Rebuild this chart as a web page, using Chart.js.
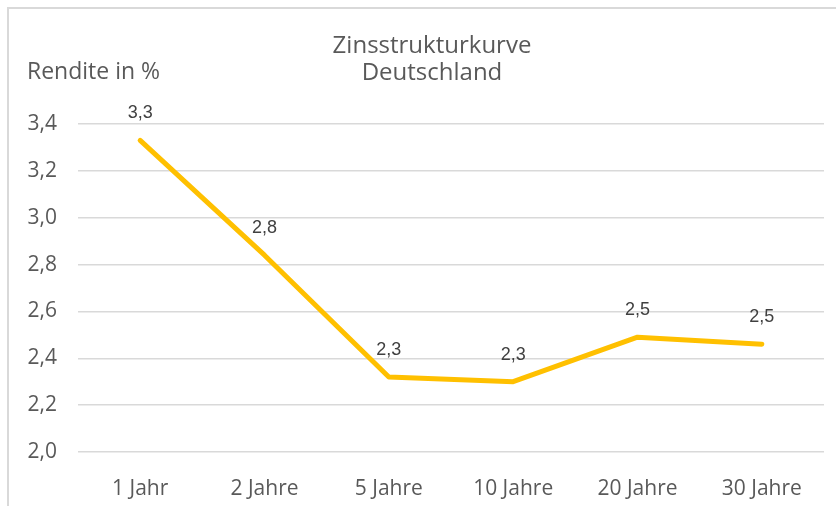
<!DOCTYPE html>
<html>

<head>
    <meta name="viewport" content="width=device-width, initial-scale=1.0">
    <title>Zinsstrukturkurve</title>
    <script src="https://cdn.jsdelivr.net/npm/chart.js"></script>
    <style>
        html, body { margin: 0; padding: 0; background: #fff; }
    </style>
</head>

<body>
    <div class="chart-container" style="position: relative; height: 506px; width: 836px;">
        <canvas id="lineChart"></canvas>
    </div>

<script>
    // data
    var laufzeiten = ["1 Jahr", "2 Jahre", "5 Jahre", "10 Jahre", "20 Jahre", "30 Jahre"];
    var renditen = [3.33, 2.84, 2.32, 2.30, 2.49, 2.46];
    var titelZeilen = ["Zinsstrukturkurve", "Deutschland"];
    var achsenTitel = "Rendite in %";
    var yMin = 2.0, yMax = 3.4, yStep = 0.2;

    var textGrau = "#595959";

    function komma(v) {
        return v.toFixed(1).replace(".", ",");
    }

    // white background, frame, title and the horizontal axis title
    var rahmenPlugin = {
        id: "rahmen",
        beforeDraw: function(chart) {
            var ctx = chart.ctx;
            ctx.save();
            ctx.fillStyle = "#fff";
            ctx.fillRect(0, 0, chart.width, chart.height);
            ctx.strokeStyle = "#d9d9d9";
            ctx.lineWidth = 2;
            ctx.beginPath();
            ctx.moveTo(8, chart.height);
            ctx.lineTo(8, 8);
            ctx.lineTo(chart.width, 8);
            ctx.stroke();
            ctx.restore();
        },
        afterDraw: function(chart) {
            var ctx = chart.ctx;
            ctx.save();
            ctx.fillStyle = textGrau;
            ctx.textBaseline = "alphabetic";

            ctx.font = "24px 'Open Sans'";
            ctx.textAlign = "center";
            ctx.fillText(titelZeilen[0], 432, 53);
            ctx.fillText(titelZeilen[1], 432, 80);

            ctx.font = "23px 'Open Sans'";
            ctx.textAlign = "left";
            ctx.fillText(achsenTitel, 27, 79);
            ctx.restore();
        }
    };

    // value labels above each point
    var wertePlugin = {
        id: "werte",
        afterDatasetsDraw: function(chart) {
            var ctx = chart.ctx;
            var meta = chart.getDatasetMeta(0);
            ctx.save();
            ctx.font = "18px 'Liberation Sans'";
            ctx.fillStyle = "#404040";
            ctx.textAlign = "center";
            ctx.textBaseline = "middle";
            meta.data.forEach(function(pt, i) {
                ctx.fillText(komma(renditen[i]), pt.x, pt.y - 27);
            });
            ctx.restore();
        }
    };

    document.addEventListener("DOMContentLoaded", function() {
        var ctx = document.getElementById("lineChart").getContext("2d");

        var chartData = {
            labels: laufzeiten,
            datasets: [{
                label: "Rendite",
                data: renditen,
                borderColor: "#FFC000",
                backgroundColor: "#FFC000",
                borderWidth: 5,
                borderCapStyle: "round",
                borderJoinStyle: "round",
                pointRadius: 0,
                pointHoverRadius: 0,
                tension: 0,
                fill: false
            }]
        };

        var options = {
            responsive: true,
            maintainAspectRatio: false,
            animation: false,
            layout: {
                padding: { left: 8, right: 12, top: 124, bottom: 0 }
            },
            plugins: {
                legend: { display: false },
                tooltip: { enabled: false },
                title: { display: false }
            },
            scales: {
                x: {
                    offset: true,
                    grid: { display: false },
                    border: { display: false },
                    ticks: {
                        color: textGrau,
                        font: { family: "'Open Sans'", size: 21, lineHeight: 1.2 },
                        padding: 16,
                        maxRotation: 0,
                        autoSkip: false
                    },
                    afterFit: function(scale) { scale.height = 54; }
                },
                y: {
                    min: yMin,
                    max: yMax,
                    grid: { color: "#d9d9d9", lineWidth: 1.5, drawTicks: false },
                    border: { display: false },
                    ticks: {
                        stepSize: yStep,
                        color: textGrau,
                        font: { family: "'Open Sans'", size: 21 },
                        padding: 21,
                        callback: function(v) { return komma(v); }
                    },
                    afterFit: function(scale) { scale.width = 70; }
                }
            }
        };

        new Chart(ctx, {
            type: "line",
            data: chartData,
            options: options,
            plugins: [rahmenPlugin, wertePlugin]
        });
    });
</script>
</body>

</html>
